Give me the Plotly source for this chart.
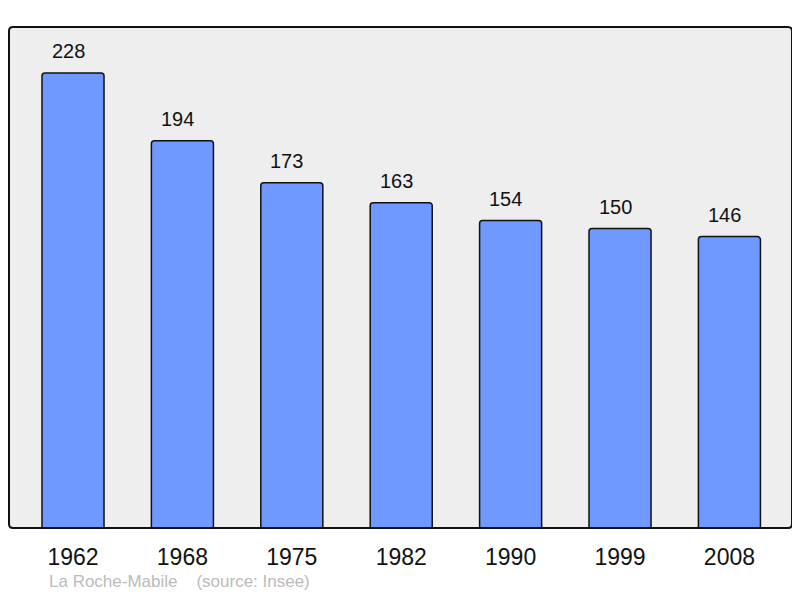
import plotly.graph_objects as go

years = ["1962", "1968", "1975", "1982", "1990", "1999", "2008"]
population = [228, 194, 173, 163, 154, 150, 146]
footer_text = "La Roche-Mabile    (source: Insee)"

xpos = list(range(len(years)))

fig = go.Figure()
fig.add_trace(go.Bar(
    x=xpos, y=population, width=0.567,
    marker=dict(color="#7099ff", line=dict(color="#111111", width=1.5), cornerradius=3),
    hoverinfo="skip",
))

for xi, v in zip(xpos, population):
    fig.add_annotation(x=xi, y=v, text=str(v), showarrow=False, yanchor="bottom",
                       yshift=9, xshift=-5,
                       font=dict(size=20, color="#111111", family="Liberation Sans"))

# page body has an 8px margin
OFF = 8
W, H = 785, 582
L, T = 9 - OFF, 27 - OFF
R = W - (792 - OFF)
B = H - (528 - OFF)
fig.update_layout(
    width=W, height=H,
    margin=dict(l=L, r=R, t=T, b=B),
    paper_bgcolor="white", plot_bgcolor="#eeeeee",
    showlegend=False,
    xaxis=dict(range=[-0.585, 6.572], tickmode="array", tickvals=xpos, ticktext=years,
               showgrid=False, zeroline=False, ticks="", showline=False, ticklabelstandoff=13,
               tickfont=dict(size=23, color="#111111", family="Liberation Sans")),
    yaxis=dict(range=[0, 251], showgrid=False, zeroline=False, showticklabels=False, showline=False),
)

# rounded frame around plot area
pw = W - L - R
ph = H - T - B
rx = 4 / pw
ry = 4 / ph
path = (f"M {rx},0 L {1-rx},0 Q 1,0 1,{ry} L 1,{1-ry} Q 1,1 {1-rx},1 L {rx},1 Q 0,1 0,{1-ry} "
        f"L 0,{ry} Q 0,0 {rx},0 Z")
fig.add_shape(type="path", xref="x domain", yref="y domain", path=path,
              line=dict(color="#111111", width=2), layer="above")

fig.add_annotation(xref="paper", yref="paper", x=(47 - 9) / pw, y=-(581 - 528) / ph,
                   text=footer_text, showarrow=False, xanchor="left", yanchor="middle",
                   font=dict(size=17, color="#bbbbbb", family="Liberation Sans"))

fig.write_html("out.html")
